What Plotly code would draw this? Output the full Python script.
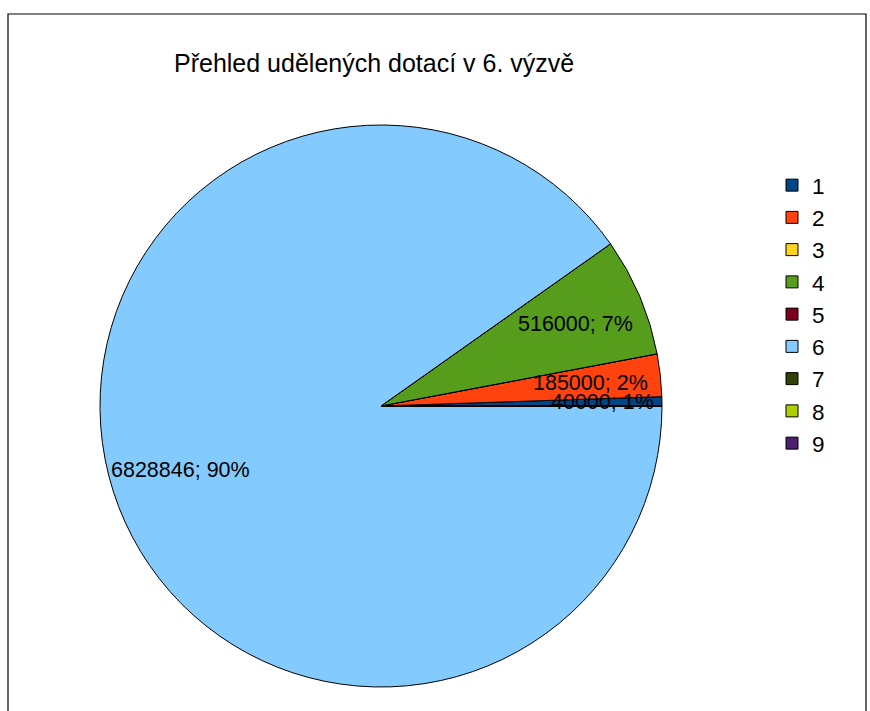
import math
import plotly.graph_objects as go

categories = ["1", "2", "3", "4", "5", "6", "7", "8", "9"]
values = [40000, 185000, 0, 516000, 0, 6828846, 0, 0, 0]
colors = ["#004586", "#ff420e", "#ffd320", "#579d1c", "#7e0021",
          "#83caff", "#314004", "#aecf00", "#4b1f6f"]
title_text = "Přehled udělených dotací v 6. výzvě"

W, H = 870, 711
CX, CY, R = 381, 406, 281  # pie centre and radius in pixels
FONT = "Liberation Sans, Arial, sans-serif"

total = sum(values)
# first slice starts at 3 o'clock and the slices run counter-clockwise
start_rotation = 90 - 360 * values[0] / total

fig = go.Figure()
fig.add_trace(go.Pie(
    labels=categories,
    values=values,
    sort=False,
    direction="counterclockwise",
    rotation=start_rotation,
    marker=dict(colors=colors, line=dict(color="#000000", width=1)),
    textinfo="none",
    hoverinfo="label+value+percent",
    domain=dict(x=[(CX - R) / W, (CX + R) / W],
                y=[1 - (CY + R) / H, 1 - (CY - R) / H]),
    showlegend=True,
))

# data labels placed at each slice's mid-angle
cum = 0.0
annotations = []
for cat, v in zip(categories, values):
    if v > 0:
        mid = (cum + v / 2) / total * 2 * math.pi
        frac = v / total
        rr = 0.75 if frac > 0.01 else 0.79
        px = CX + rr * R * math.cos(mid)
        py = CY - rr * R * math.sin(mid)
        pct = max(round(frac * 100), 1)
        annotations.append(dict(
            x=px / W, y=1 - py / H, xref="paper", yref="paper",
            text=f"{v}; {pct}%", showarrow=False,
            font=dict(family=FONT, size=21.5, color="#000000"),
            xanchor="center", yanchor="middle",
        ))
    cum += v

annotations.append(dict(
    x=374 / W, y=1 - 63 / H, xref="paper", yref="paper",
    text=title_text, showarrow=False,
    font=dict(family=FONT, size=25, color="#000000"),
    xanchor="center", yanchor="middle",
))

fig.update_layout(
    width=W, height=H,
    margin=dict(l=0, r=0, t=0, b=0),
    paper_bgcolor="#ffffff",
    plot_bgcolor="#ffffff",
    annotations=annotations,
    legend=dict(
        x=772 / W, y=1 - 164 / H, xanchor="left", yanchor="top",
        font=dict(family=FONT, size=22.5, color="#000000"),
        bgcolor="rgba(0,0,0,0)", traceorder="normal",
        itemclick=False,
    ),
    shapes=[dict(
        type="rect", xref="paper", yref="paper",
        x0=8 / W, x1=866 / W, y0=-0.05, y1=1 - 14 / H,
        line=dict(color="#000000", width=1.2), fillcolor="rgba(0,0,0,0)",
        layer="below",
    )],
)

fig.write_html("out.html", config={"displayModeBar": False},
               post_script="document.body.style.margin='0';")
